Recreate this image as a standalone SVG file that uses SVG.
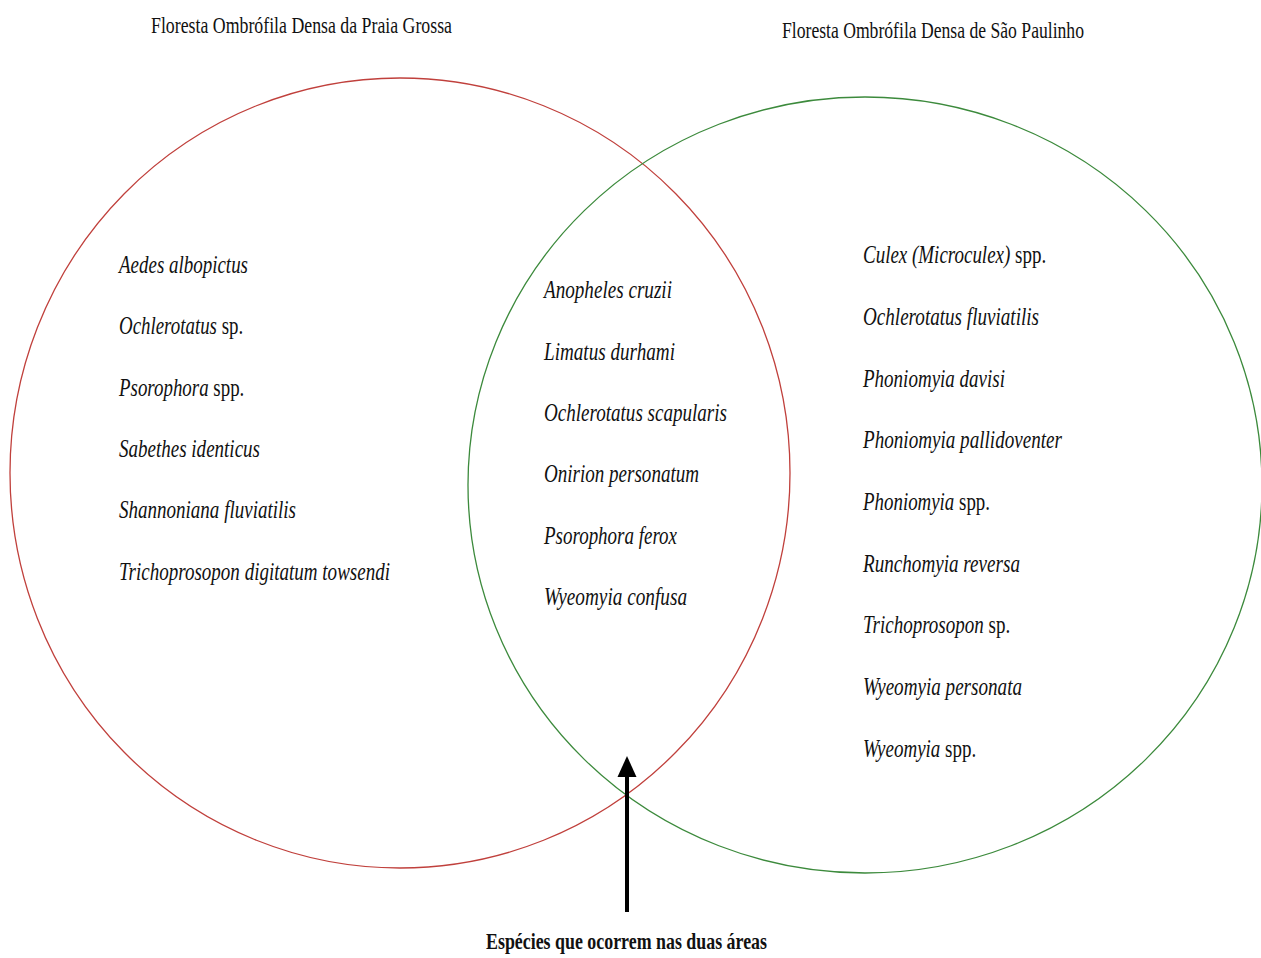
<svg xmlns="http://www.w3.org/2000/svg" width="1261" height="958" viewBox="0 0 1261 958">
<style>
.t{font-family:"Liberation Serif","Times New Roman",serif;fill:#111;}
.title{font-size:24px;}
.sp{font-size:25px;font-style:italic;}
.r{font-style:normal;}
.lab{font-size:23px;font-weight:bold;}
.set{fill:none;stroke-width:1.3;}
</style>
<rect width="1261" height="958" fill="#fff"/>
<g id="set-praia-grossa">
<ellipse class="set" cx="400" cy="473" rx="390" ry="395" stroke="#c0403c"/>
<text class="t title" x="151" y="33" textLength="301" lengthAdjust="spacingAndGlyphs">Floresta Ombrófila Densa da Praia Grossa</text>
<text class="t sp" x="119" y="273" textLength="129" lengthAdjust="spacingAndGlyphs">Aedes albopictus</text>
<text class="t sp" transform="translate(119,334) scale(0.756,1)">Ochlerotatus<tspan class="r"> sp.</tspan></text>
<text class="t sp" transform="translate(119,396) scale(0.756,1)">Psorophora<tspan class="r"> spp.</tspan></text>
<text class="t sp" x="119" y="457" textLength="141" lengthAdjust="spacingAndGlyphs">Sabethes identicus</text>
<text class="t sp" x="119" y="518" textLength="177" lengthAdjust="spacingAndGlyphs">Shannoniana fluviatilis</text>
<text class="t sp" x="119" y="580" textLength="271" lengthAdjust="spacingAndGlyphs">Trichoprosopon digitatum towsendi</text>
</g>
<g id="set-sao-paulinho">
<ellipse class="set" cx="865" cy="485" rx="397" ry="388" stroke="#3c8a3c"/>
<text class="t title" x="782" y="38" textLength="302" lengthAdjust="spacingAndGlyphs">Floresta Ombrófila Densa de São Paulinho</text>
<text class="t sp" transform="translate(863,263) scale(0.759,1)">Culex (Microculex)<tspan class="r"> spp.</tspan></text>
<text class="t sp" x="863" y="325" textLength="176" lengthAdjust="spacingAndGlyphs">Ochlerotatus fluviatilis</text>
<text class="t sp" x="863" y="387" textLength="142" lengthAdjust="spacingAndGlyphs">Phoniomyia davisi</text>
<text class="t sp" x="863" y="448" textLength="199" lengthAdjust="spacingAndGlyphs">Phoniomyia pallidoventer</text>
<text class="t sp" transform="translate(863,510) scale(0.756,1)">Phoniomyia<tspan class="r"> spp.</tspan></text>
<text class="t sp" x="863" y="572" textLength="157" lengthAdjust="spacingAndGlyphs">Runchomyia reversa</text>
<text class="t sp" transform="translate(863,633) scale(0.761,1)">Trichoprosopon<tspan class="r"> sp.</tspan></text>
<text class="t sp" x="863" y="695" textLength="159" lengthAdjust="spacingAndGlyphs">Wyeomyia personata</text>
<text class="t sp" transform="translate(863,757) scale(0.76,1)">Wyeomyia<tspan class="r"> spp.</tspan></text>
</g>
<g id="intersection">
<text class="t sp" x="544" y="298" textLength="128" lengthAdjust="spacingAndGlyphs">Anopheles cruzii</text>
<text class="t sp" x="544" y="360" textLength="131" lengthAdjust="spacingAndGlyphs">Limatus durhami</text>
<text class="t sp" x="544" y="421" textLength="183" lengthAdjust="spacingAndGlyphs">Ochlerotatus scapularis</text>
<text class="t sp" x="544" y="482" textLength="155" lengthAdjust="spacingAndGlyphs">Onirion personatum</text>
<text class="t sp" x="544" y="544" textLength="133" lengthAdjust="spacingAndGlyphs">Psorophora ferox</text>
<text class="t sp" x="544" y="605" textLength="143" lengthAdjust="spacingAndGlyphs">Wyeomyia confusa</text>
</g>
<g id="connectors">
<line x1="627" y1="912" x2="627" y2="772" stroke="#000" stroke-width="4"/>
<polygon points="627,756 617.5,777 636.5,777" fill="#000"/>
</g>
<g id="label-shared">
<text class="t lab" x="486" y="949" textLength="281" lengthAdjust="spacingAndGlyphs">Espécies que ocorrem nas duas áreas</text>
</g>
</svg>
